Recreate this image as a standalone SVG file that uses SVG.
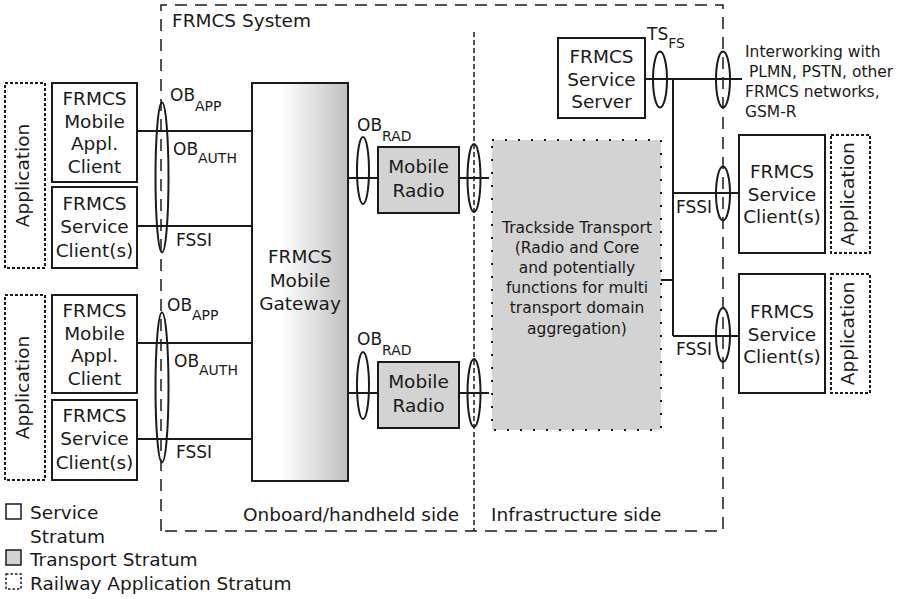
<svg xmlns="http://www.w3.org/2000/svg" width="902" height="599" viewBox="0 0 902 599">
<style>
text{font-family:"DejaVu Sans","Liberation Sans",sans-serif;fill:#1a1a1a;}
.t{font-size:18.5px;text-anchor:middle;}
.l{font-size:17px;}
.s{font-size:14px;}
.box{fill:#fff;stroke:#1a1a1a;stroke-width:2;}
.tr{fill:#d3d3d3;stroke:#1a1a1a;stroke-width:2;}
.app{fill:#fff;stroke:#1a1a1a;stroke-width:2;stroke-dasharray:3 2;}
.ln{stroke:#1a1a1a;stroke-width:2;fill:none;}
.el{fill:none;stroke:#1a1a1a;stroke-width:2;}
.sys{fill:none;stroke:#1a1a1a;stroke-width:1.5;stroke-dasharray:12 8;}
.mid{fill:none;stroke:#1a1a1a;stroke-width:1.5;stroke-dasharray:5 3;}
</style>
<defs>
<linearGradient id="gw" x1="0" y1="0" x2="1" y2="0">
<stop offset="0" stop-color="#ffffff"/>
<stop offset="0.3" stop-color="#ffffff"/>
<stop offset="1" stop-color="#bfbfbf"/>
</linearGradient>
</defs>
<rect width="902" height="599" fill="#fff"/>

<g id="system">
<path class="sys" d="M161,531 V5 H723 V531 H161"/>
<line class="mid" x1="474" y1="32" x2="474" y2="531"/>
<text x="172" y="27" font-size="18.5">FRMCS System</text>
<text x="243" y="521" font-size="18.5">Onboard/handheld side</text>
<text x="491" y="521" font-size="18.5">Infrastructure side</text>
</g>

<g id="connectors">
<line class="ln" x1="137" y1="131" x2="252" y2="131"/>
<line class="ln" x1="137" y1="226" x2="252" y2="226"/>
<line class="ln" x1="137" y1="343" x2="252" y2="343"/>
<line class="ln" x1="137" y1="439" x2="252" y2="439"/>
<line class="ln" x1="348" y1="178" x2="378" y2="178"/>
<line class="ln" x1="459" y1="178" x2="489" y2="178"/>
<line class="ln" x1="348" y1="393" x2="378" y2="393"/>
<line class="ln" x1="459" y1="393" x2="489" y2="393"/>
<line class="ln" x1="645" y1="79" x2="742" y2="79"/>
<line class="ln" x1="673" y1="79" x2="673" y2="336"/>
<line class="ln" x1="661" y1="280" x2="673" y2="280"/>
<line class="ln" x1="673" y1="193" x2="739" y2="193"/>
<line class="ln" x1="673" y1="336" x2="739" y2="336"/>
<ellipse class="el" cx="162" cy="177.5" rx="6.5" ry="75"/>
<ellipse class="el" cx="162" cy="387.5" rx="6.5" ry="75"/>
<ellipse class="el" cx="363" cy="170.5" rx="6" ry="33.5"/>
<ellipse class="el" cx="363" cy="385.5" rx="6" ry="33.5"/>
<ellipse class="el" cx="474" cy="178" rx="6.5" ry="34"/>
<ellipse class="el" cx="474" cy="393" rx="6.5" ry="34"/>
<ellipse class="el" cx="660" cy="79.5" rx="7" ry="28"/>
<ellipse class="el" cx="723" cy="79.5" rx="7" ry="28"/>
<ellipse class="el" cx="723" cy="193.5" rx="7" ry="27"/>
<ellipse class="el" cx="723" cy="335" rx="7" ry="27"/>
<text class="l" x="170" y="101">OB<tspan class="s" dy="10">APP</tspan></text>
<text class="l" x="173" y="155">OB<tspan class="s" dy="8">AUTH</tspan></text>
<text class="l" x="176" y="246">FSSI</text>
<text class="l" x="167" y="311">OB<tspan class="s" dy="9">APP</tspan></text>
<text class="l" x="174" y="367">OB<tspan class="s" dy="8">AUTH</tspan></text>
<text class="l" x="176" y="458">FSSI</text>
<text class="l" x="357" y="131">OB<tspan class="s" dy="10">RAD</tspan></text>
<text class="l" x="357" y="345">OB<tspan class="s" dy="10">RAD</tspan></text>
<text class="l" x="647" y="40">TS<tspan class="s" dy="8">FS</tspan></text>
<text class="l" x="676" y="213">FSSI</text>
<text class="l" x="676" y="355">FSSI</text>
</g>

<g id="app-l1">
<rect class="app" x="5" y="83" width="40" height="185"/>
<text class="t" transform="translate(29,175.5) rotate(-90)">Application</text>
</g>
<g id="client-l1">
<rect class="box" x="52" y="83" width="85" height="99"/>
<text class="t" x="94.5" y="105">FRMCS</text>
<text class="t" x="94.5" y="127.5">Mobile</text>
<text class="t" x="94.5" y="150">Appl.</text>
<text class="t" x="94.5" y="173">Client</text>
</g>
<g id="svc-l1">
<rect class="box" x="52" y="187" width="85" height="81"/>
<text class="t" x="94.5" y="210">FRMCS</text>
<text class="t" x="94.5" y="233">Service</text>
<text class="t" x="94.5" y="257">Client(s)</text>
</g>

<g id="app-l2">
<rect class="app" x="5" y="295" width="40" height="185"/>
<text class="t" transform="translate(29,387.5) rotate(-90)">Application</text>
</g>
<g id="client-l2">
<rect class="box" x="52" y="295" width="85" height="98"/>
<text class="t" x="94.5" y="317">FRMCS</text>
<text class="t" x="94.5" y="339.5">Mobile</text>
<text class="t" x="94.5" y="362">Appl.</text>
<text class="t" x="94.5" y="385">Client</text>
</g>
<g id="svc-l2">
<rect class="box" x="52" y="400" width="85" height="80"/>
<text class="t" x="94.5" y="422">FRMCS</text>
<text class="t" x="94.5" y="445">Service</text>
<text class="t" x="94.5" y="469">Client(s)</text>
</g>

<g id="gateway">
<rect x="252" y="83" width="96" height="398" fill="url(#gw)" stroke="#1a1a1a" stroke-width="2"/>
<text class="t" x="300" y="263">FRMCS</text>
<text class="t" x="300" y="287">Mobile</text>
<text class="t" x="300" y="310">Gateway</text>
</g>

<g id="radio1">
<rect class="tr" x="378" y="147" width="81" height="66"/>
<text class="t" x="418.5" y="173" font-size="17">Mobile</text>
<text class="t" x="418.5" y="197" font-size="17">Radio</text>
</g>
<g id="radio2">
<rect class="tr" x="378" y="362" width="81" height="66"/>
<text class="t" x="418.5" y="388" font-size="17">Mobile</text>
<text class="t" x="418.5" y="412" font-size="17">Radio</text>
</g>

<g id="trackside">
<rect x="492" y="140" width="169" height="290" fill="#d3d3d3" stroke="#1a1a1a" stroke-width="2" stroke-dasharray="2 11"/>
<g font-size="15.5" text-anchor="middle">
<text x="577" y="233">Trackside Transport</text>
<text x="577" y="253">(Radio and Core</text>
<text x="577" y="273">and potentially</text>
<text x="577" y="293">functions for multi</text>
<text x="577" y="313">transport domain</text>
<text x="577" y="334">aggregation)</text>
</g>
</g>

<g id="server">
<rect class="box" x="558" y="38" width="87" height="80"/>
<text class="t" x="601.5" y="63">FRMCS</text>
<text class="t" x="601.5" y="86">Service</text>
<text class="t" x="601.5" y="108">Server</text>
</g>

<g id="interworking" font-size="15.5">
<text x="745" y="57">Interworking with</text>
<text x="749" y="77">PLMN, PSTN, other</text>
<text x="745" y="97">FRMCS networks,</text>
<text x="745" y="117">GSM-R</text>
</g>

<g id="svc-r1">
<rect class="box" x="739" y="135" width="86" height="118"/>
<text class="t" x="782" y="178">FRMCS</text>
<text class="t" x="782" y="201">Service</text>
<text class="t" x="782" y="223">Client(s)</text>
</g>
<g id="app-r1">
<rect class="app" x="831" y="135" width="39" height="118"/>
<text class="t" transform="translate(854,194) rotate(-90)">Application</text>
</g>
<g id="svc-r2">
<rect class="box" x="739" y="274" width="86" height="119"/>
<text class="t" x="782" y="318">FRMCS</text>
<text class="t" x="782" y="341">Service</text>
<text class="t" x="782" y="363">Client(s)</text>
</g>
<g id="app-r2">
<rect class="app" x="831" y="274" width="39" height="119"/>
<text class="t" transform="translate(854,333.5) rotate(-90)">Application</text>
</g>

<g id="legend" font-size="18.5">
<rect x="6" y="504" width="15" height="15" fill="#fff" stroke="#1a1a1a" stroke-width="1.5"/>
<text x="30" y="519">Service</text>
<text x="30" y="543">Stratum</text>
<rect x="6" y="550" width="15" height="15" fill="#d3d3d3" stroke="#1a1a1a" stroke-width="1.5"/>
<text x="30" y="566">Transport Stratum</text>
<rect x="6" y="574" width="15" height="15" fill="#fff" stroke="#1a1a1a" stroke-width="1.5" stroke-dasharray="2.5 2"/>
<text x="30" y="590">Railway Application Stratum</text>
</g>
</svg>
